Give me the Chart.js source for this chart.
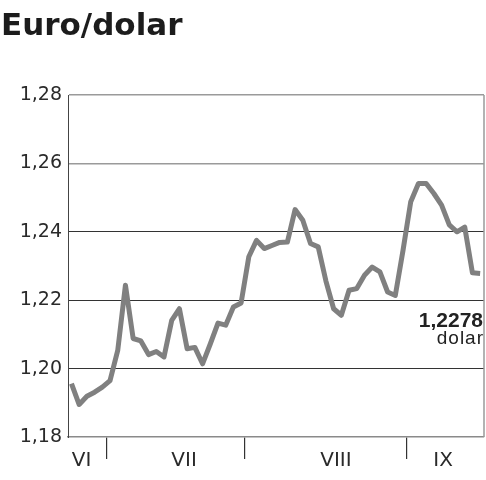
<!DOCTYPE html>
<html>
<head>
<meta charset="utf-8">
<script src="https://cdn.jsdelivr.net/npm/chart.js@4/dist/chart.umd.min.js"></script>
<style>
    html, body { margin: 0; padding: 0; background: #fff; }
    #wrap { position: relative; width: 486px; height: 480px; }
    #title {
        position: absolute; left: 1px; top: 9px;
        font: bold 31px/31px "DejaVu Sans", sans-serif;
        color: #1c1c1c;
    }
    canvas { position: absolute; left: 0; top: 0; }
</style>
</head>
<body>
<div id="wrap">
    <canvas id="chart" width="486" height="480"></canvas>
    <div id="title">Euro/dolar</div>
</div>
<script>
// daily euro/dollar fixing, late June to mid September
const rates = [
    1.1956, 1.1895, 1.1919, 1.1931, 1.1946, 1.1965, 1.2053, 1.2244, 1.2088, 1.2081,
    1.2041, 1.2050, 1.2034, 1.2141, 1.2175, 1.2058, 1.2062, 1.2014, 1.2072, 1.2133,
    1.2127, 1.2180, 1.2192, 1.2327, 1.2375, 1.2351, 1.2360, 1.2369, 1.2370, 1.2465,
    1.2434, 1.2366, 1.2356, 1.2256, 1.2175, 1.2156, 1.2229, 1.2234, 1.2273, 1.2297,
    1.2283, 1.2224, 1.2214, 1.2346, 1.2488, 1.2541, 1.2541, 1.2512, 1.2478, 1.2420,
    1.2400, 1.2414, 1.2280, 1.2278
];
const days = rates.map((_, i) => i);

const months = ['VI', 'VII', 'VIII', 'IX'];
const monthCenters = [1.3, 14.6, 34.3, 48.2];   // in trading-day units
const monthBreaks = [4.5, 22.4, 43.4];
const yTicks = [1.18, 1.20, 1.22, 1.24, 1.26, 1.28];
const unit = 'dolar';

const fmt = (v, d) => v.toFixed(d).replace('.', ',');

const frame = {
    id: 'frame',
    afterDraw(chart) {
        const { ctx, chartArea } = chart;
        ctx.save();
        ctx.strokeStyle = '#9a9a9a';
        ctx.lineWidth = 1.5;
        ctx.beginPath();
        ctx.moveTo(chartArea.right, chartArea.top);
        ctx.lineTo(chartArea.right, chartArea.bottom);
        ctx.stroke();

        // last value note under the end of the line
        const meta = chart.getDatasetMeta(0);
        const last = meta.data[meta.data.length - 1];
        ctx.fillStyle = '#222';
        ctx.textAlign = 'right';
        ctx.textBaseline = 'middle';
        ctx.font = 'bold 21px "Liberation Sans"';
        ctx.fillText(fmt(rates[rates.length - 1], 4), chartArea.right - 1, last.y + 48);
        ctx.font = '19px "Liberation Sans"';
        ctx.letterSpacing = '1px';
        ctx.fillText(unit, chartArea.right, last.y + 65);
        ctx.restore();
    }
};

new Chart(document.getElementById('chart'), {
    type: 'line',
    data: {
        datasets: [{
            data: days.map((d, i) => ({ x: d, y: rates[i] })),
            borderColor: '#808080',
            borderWidth: 5,
            borderJoinStyle: 'round',
            pointRadius: 0,
            tension: 0,
        }],
    },
    options: {
        responsive: false,
        animation: false,
        layout: { padding: { top: 95, right: 2, left: 0, bottom: 0 } },
        plugins: { legend: { display: false }, tooltip: { enabled: false } },
        scales: {
            x: {
                type: 'linear',
                min: -0.45,
                max: 53.5,
                afterFit: s => { s.height = 43; },
                afterBuildTicks: s => {
                    s.ticks = monthBreaks.concat(monthCenters)
                        .sort((a, b) => a - b)
                        .map(v => ({ value: v }));
                },
                border: { color: '#8a8a8a', width: 1.5 },
                grid: {
                    drawOnChartArea: false,
                    drawTicks: true,
                    tickLength: 22,
                    lineWidth: 1.2,
                    tickColor: c => monthBreaks.includes(c.tick && c.tick.value) ? '#333' : 'rgba(0,0,0,0)',
                },
                ticks: {
                    autoSkip: false,
                    maxRotation: 0,
                    padding: -10,
                    color: '#2a2a2a',
                    font: { family: 'DejaVu Sans', size: 20 },
                    callback: v => {
                        const i = monthCenters.indexOf(v);
                        return i >= 0 ? months[i] : '';
                    },
                },
            },
            y: {
                min: 1.18,
                max: 1.28,
                afterFit: s => { s.width = 68; },
                afterBuildTicks: s => { s.ticks = yTicks.map(v => ({ value: v })); },
                border: { color: '#444', width: 1 },
                grid: {
                    drawTicks: false,
                    color: c => {
                        const v = c.tick.value;
                        if (v < 1.185) return 'rgba(0,0,0,0)';
                        return v > 1.255 ? '#9a9a9a' : '#333';
                    },
                    lineWidth: c => c.tick.value > 1.255 ? 1.5 : 1,
                },
                ticks: {
                    padding: 6,
                    color: '#2a2a2a',
                    font: { family: 'DejaVu Sans', size: 19 },
                    callback: v => fmt(v, 2),
                },
            },
        },
    },
    plugins: [frame],
});
</script>
</body>
</html>
